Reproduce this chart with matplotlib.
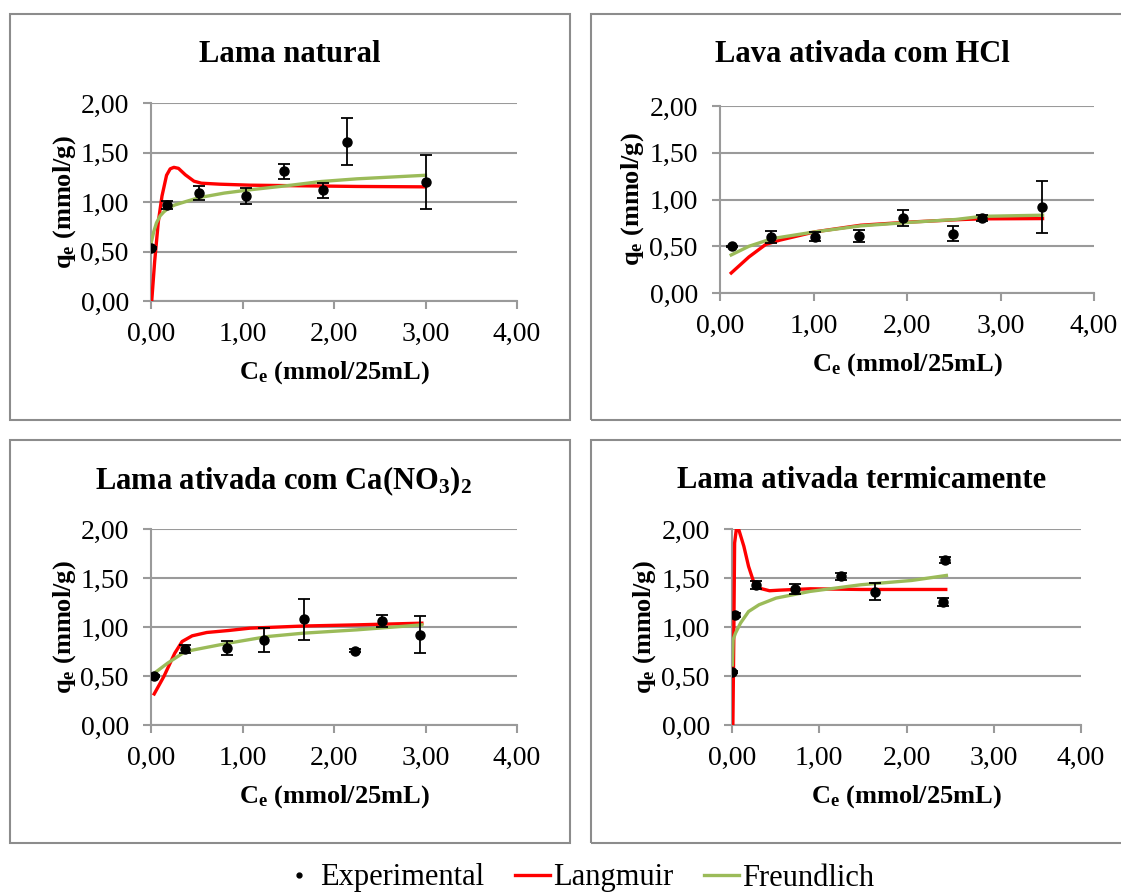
import matplotlib
matplotlib.use('Agg')
import matplotlib.pyplot as plt
from matplotlib.lines import Line2D
from matplotlib.patches import Rectangle

plt.rcParams['font.family'] = ['Liberation Serif', 'DejaVu Serif']
plt.rcParams['mathtext.fontset'] = 'custom'
plt.rcParams['mathtext.rm'] = 'Liberation Serif'
plt.rcParams['mathtext.bf'] = 'Liberation Serif:bold'
plt.rcParams['mathtext.it'] = 'Liberation Serif:italic'

# ---- dados ----
titulos = ['Lama natural', 'Lava ativada com HCl',
           r'Lama ativada com Ca(NO$_\mathbf{3}$)$_\mathbf{2}$',
           'Lama ativada termicamente']

# Lama natural
exp1_x = [0.00, 0.18, 0.53, 1.04, 1.45, 1.88, 2.14, 3.00]
exp1_y = [0.54, 0.97, 1.09, 1.06, 1.31, 1.12, 1.61, 1.20]
exp1_e = [0.01, 0.04, 0.07, 0.08, 0.075, 0.075, 0.235, 0.27]
lang1_x = [0.008, 0.04, 0.08, 0.12, 0.17, 0.21, 0.25, 0.30, 0.375, 0.47, 0.55, 0.75, 1.08, 2.25, 3.00]
lang1_y = [0.00, 0.40, 0.80, 1.06, 1.27, 1.335, 1.35, 1.34, 1.275, 1.21, 1.19, 1.18, 1.17, 1.157, 1.153]
freu1_x = [0.00, 0.03, 0.06, 0.10, 0.14, 0.20, 0.26, 0.40, 0.53, 0.80, 1.08, 1.47, 1.86, 2.25, 3.00]
freu1_y = [0.58, 0.70, 0.79, 0.86, 0.90, 0.945, 0.97, 1.01, 1.045, 1.09, 1.123, 1.163, 1.207, 1.234, 1.27]

# Lama ativada com HCl
exp2_x = [0.13, 0.55, 1.015, 1.49, 1.955, 2.49, 2.80, 3.44]
exp2_y = [0.50, 0.60, 0.604, 0.61, 0.80, 0.636, 0.80, 0.92]
exp2_e = [0.005, 0.06, 0.05, 0.06, 0.085, 0.085, 0.035, 0.28]
lang2_x = [0.12, 0.31, 0.49, 0.635, 1.015, 1.505, 2.05, 2.59, 2.80, 3.45]
lang2_y = [0.214, 0.386, 0.52, 0.564, 0.654, 0.725, 0.76, 0.786, 0.793, 0.796]
freu2_x = [0.12, 0.31, 0.56, 1.015, 1.505, 2.05, 2.52, 2.80, 3.45]
freu2_y = [0.407, 0.50, 0.582, 0.654, 0.718, 0.757, 0.786, 0.82, 0.832]

# Lama ativada com Ca(NO3)2
exp3_x = [0.035, 0.37, 0.83, 1.24, 1.67, 2.225, 2.53, 2.94]
exp3_y = [0.504, 0.777, 0.787, 0.869, 1.08, 0.76, 1.063, 0.923]
exp3_e = [0.01, 0.04, 0.07, 0.125, 0.21, 0.015, 0.06, 0.185]
lang3_x = [0.035, 0.14, 0.26, 0.34, 0.45, 0.61, 0.845, 1.08, 1.665, 2.25, 2.96]
lang3_y = [0.317, 0.494, 0.733, 0.852, 0.91, 0.944, 0.964, 0.988, 1.01, 1.022, 1.039]
freu3_x = [0.035, 0.18, 0.375, 0.845, 1.275, 1.665, 2.25, 2.96]
freu3_y = [0.528, 0.63, 0.75, 0.835, 0.903, 0.937, 0.971, 1.022]

# Lama ativada termicamente
exp4_x = [0.004, 0.04, 0.28, 0.72, 1.245, 1.64, 2.415, 2.44]
exp4_y = [0.545, 1.124, 1.428, 1.387, 1.516, 1.36, 1.254, 1.683]
exp4_e = [0.01, 0.02, 0.04, 0.055, 0.035, 0.085, 0.04, 0.03]
lang4_x = [0.01, 0.02, 0.03, 0.05, 0.078, 0.136, 0.19, 0.25, 0.31, 0.43, 0.545, 0.895, 1.48, 2.45]
lang4_y = [0.00, 0.835, 1.857, 2.00, 1.993, 1.823, 1.618, 1.455, 1.397, 1.37, 1.376, 1.39, 1.383, 1.383]
freu4_x = [0.004, 0.012, 0.04, 0.097, 0.19, 0.31, 0.505, 0.894, 1.477, 2.06, 2.457]
freu4_y = [0.613, 0.869, 0.937, 1.039, 1.158, 1.227, 1.295, 1.363, 1.431, 1.475, 1.526]

x_ticks = [0, 1, 2, 3, 4]
x_ticklabels = ['0,00', '1,00', '2,00', '3,00', '4,00']
y_ticks = [0, 0.5, 1.0, 1.5, 2.0]
y_ticklabels = ['0,00', '0,50', '1,00', '1,50', '2,00']

COR_LANG = '#FF0000'
COR_FREU = '#9BBB59'
COR_GRADE = '#9a9a9a'

W, H = 1121, 894
fig = plt.figure(figsize=(W / 100, H / 100), dpi=100)


def px_rect(x0, x1, y0, y1):
    # pixels (topo=0) -> fração da figura
    return [x0 / W, 1 - y1 / H, (x1 - x0) / W, (y1 - y0) / H]


# molduras dos quatro gráficos
for (x0, x1, y0, y1) in [(9.5, 570, 14, 420), (591, 1130, 14, 420),
                         (9.5, 570, 440, 843), (591, 1130, 440, 843)]:
    fig.patches.append(Rectangle((x0 / W, 1 - y1 / H), (x1 - x0) / W, (y1 - y0) / H,
                                 transform=fig.transFigure, fill=False,
                                 edgecolor='#8c8c8c', linewidth=1.5))

eixos = [px_rect(151, 517, 103, 301), px_rect(720, 1094, 106, 293),
         px_rect(151, 517, 529, 725), px_rect(732, 1081, 529, 725)]
centros_titulo = [(290, 55), (862, 55), (283, 481), (862, 481)]

paineis = [
    (exp1_x, exp1_y, exp1_e, lang1_x, lang1_y, freu1_x, freu1_y),
    (exp2_x, exp2_y, exp2_e, lang2_x, lang2_y, freu2_x, freu2_y),
    (exp3_x, exp3_y, exp3_e, lang3_x, lang3_y, freu3_x, freu3_y),
    (exp4_x, exp4_y, exp4_e, lang4_x, lang4_y, freu4_x, freu4_y),
]

for i, (ex, ey, ee, lx, ly, fx, fy) in enumerate(paineis):
    ax = fig.add_axes(eixos[i])
    ax.set_xlim(0, 4)
    ax.set_ylim(0, 2)
    for s in ['top', 'right']:
        ax.spines[s].set_visible(False)
    for s in ['left', 'bottom']:
        ax.spines[s].set_color(COR_GRADE)
        ax.spines[s].set_linewidth(1.5)
    ax.yaxis.grid(True, color=COR_GRADE, linewidth=1.5)
    ax.set_axisbelow(True)
    ax.set_xticks(x_ticks)
    ax.set_xticklabels(x_ticklabels)
    ax.set_yticks(y_ticks)
    ax.set_yticklabels(y_ticklabels)
    ax.tick_params(axis='both', direction='out', length=6, width=1.5,
                   color=COR_GRADE, labelsize=20)
    ax.tick_params(axis='x', pad=9)
    ax.tick_params(axis='y', pad=10)

    ax.plot(lx, ly, color=COR_LANG, linewidth=2.4, zorder=3)
    ax.plot(fx, fy, color=COR_FREU, linewidth=2.4, zorder=4)
    ax.errorbar(ex, ey, yerr=ee, fmt='o', color='black', markersize=6.5,
                elinewidth=1.3, capsize=4.5, capthick=1.3, zorder=5)

    ax.set_xlabel(r'C$_\mathbf{e}$ (mmol/25mL)', fontsize=19, fontweight='bold', labelpad=9)
    ax.set_ylabel(r'q$_\mathbf{e}$ (mmol/g)', fontsize=19, fontweight='bold', labelpad=2)

    tx, ty = centros_titulo[i]
    fig.text(tx / W, 1 - ty / H, titulos[i], ha='center', va='center',
             fontsize=22, fontweight='bold')

# legenda inferior
handles = [
    Line2D([], [], marker='o', markersize=3.5, color='black', linestyle='none'),
    Line2D([], [], color=COR_LANG, linewidth=2.4),
    Line2D([], [], color=COR_FREU, linewidth=2.4),
]
fig.legend(handles, ['Experimental', 'Langmuir', 'Freundlich'],
           loc='center', bbox_to_anchor=(578 / W, 1 - 878 / H), ncol=3,
           frameon=False, fontsize=22, handlelength=1.15, handletextpad=0.1,
           columnspacing=1.0)

fig.savefig('out.png', dpi=100)
